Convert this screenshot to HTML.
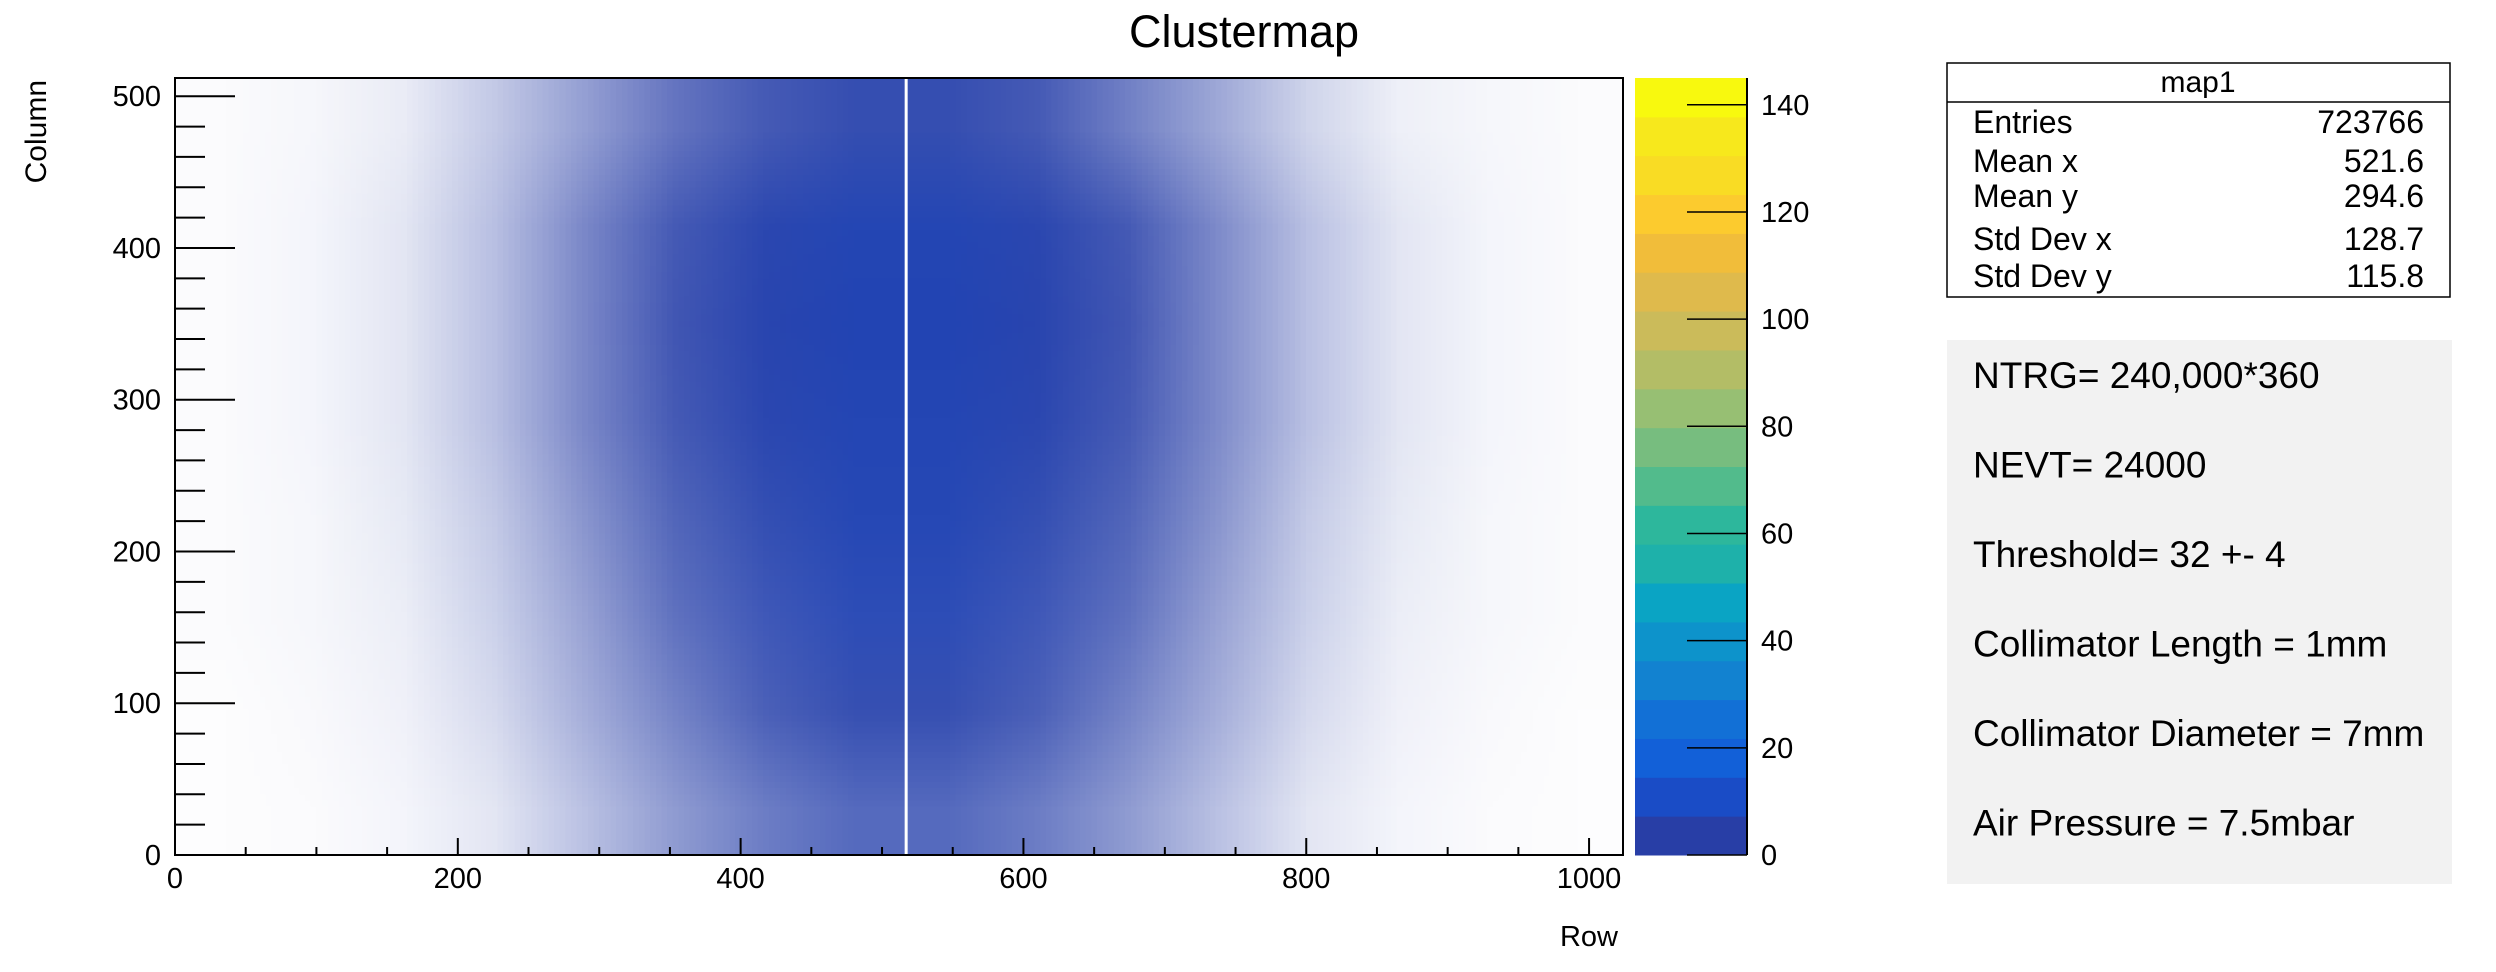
<!DOCTYPE html>
<html><head><meta charset="utf-8">
<style>
html,body{margin:0;padding:0;background:#fff;}
body{width:2496px;height:972px;position:relative;overflow:hidden;font-family:"Liberation Sans",Arial,sans-serif;}
#heat{position:absolute;left:175px;top:78px;width:1448px;height:777px;}
svg{position:absolute;left:0;top:0;}
</style></head>
<body>
<canvas id="heat" width="16" height="8"></canvas>
<svg id="chart" width="2496" height="972"></svg>
<script>
// ---- data ----
const xBinCenters = [32,96,160,224,288,352,416,480,544,608,672,736,800,864,928,992];
const yBinCenters = [480,416,352,288,224,160,96,32];
const occupancyTop   = [.02,.04,.10,.28,.50,.72,.86,.93,.93,.86,.66,.45,.22,.08,.04,.02];
const occupancyUpper = [.02,.05,.13,.33,.62,.86,.97,.99,.99,.97,.86,.60,.32,.13,.05,.02];
const occupancyMid   = [.02,.05,.13,.33,.62,.88,.98,1.0,1.0,.98,.88,.60,.32,.13,.05,.02];
const occupancyMid2  = [.02,.05,.13,.33,.62,.86,.97,.99,.99,.97,.86,.60,.32,.13,.05,.02];
const occupancyLow1  = [.02,.04,.11,.28,.55,.80,.93,.98,.98,.93,.80,.55,.27,.11,.04,.02];
const occupancyLow2  = [.02,.04,.09,.24,.48,.74,.88,.95,.95,.88,.74,.48,.24,.09,.04,.02];
const occupancyLow3  = [.01,.03,.07,.19,.42,.64,.83,.92,.92,.83,.64,.42,.19,.07,.03,.01];
const occupancyBot   = [.01,.02,.05,.13,.32,.52,.68,.78,.78,.68,.52,.32,.13,.05,.02,.01];
const centerBoost    = [0,0,0,0,0,.1,.3,.5,.5,.3,.1,0,0,0,0,0];
const deadColumns = [516];
const xTicksMajor = [0,200,400,600,800,1000];
const yTicksMajor = [0,100,200,300,400,500];
const zTicks = [0,20,40,60,80,100,120,140];
const statsLabels = ["Entries","Mean x","Mean y","Std Dev x","Std Dev y"];
const statsValues = ["723766","521.6","294.6","128.7","115.8"];
const notes = ["NTRG= 240,000*360","NEVT= 24000","Threshold= 32 +- 4","Collimator Length = 1mm","Collimator Diameter = 7mm","Air Pressure = 7.5mbar"];
const palette = ["#283ea6","#1a4cc6","#1260d8","#1270d6","#1282d0","#0d93cb","#0aa4c4","#1eb1aa","#2db79c","#52bb8c","#77bd7f","#97bf73","#b3bd66","#cbbb5a","#dfba4c","#f1bd3a","#fccb2e","#f9dc24","#f7e81c","#f8f90e"];
const occRows = [occupancyTop,occupancyUpper,occupancyMid,occupancyMid2,occupancyLow1,occupancyLow2,occupancyLow3,occupancyBot];

// ---- geometry ----
const PL=175, PR=1623, PT=78, PB=855, XMAX=1024, YMAX=512;
const xs = v => PL + v/XMAX*(PR-PL);
const ys = v => PB - v/YMAX*(PB-PT);
const CL=1635, CR=1747, ZMAX=145;
const zs = v => PB - v/ZMAX*(PB-PT);

// heatmap canvas
const cv=document.getElementById('heat'); const ctx=cv.getContext('2d');
const img=ctx.createImageData(16,8);
occRows.forEach((row,j)=>{ row.forEach((o,i)=>{
  const b=(j>=1&&j<=5)?centerBoost[i]:centerBoost[i]*0.4;
  const r=40-12*b, g=62+12*b, bl=166+26*b;
  const k=(j*16+i)*4;
  img.data[k]=Math.round(255+(r-255)*o);
  img.data[k+1]=Math.round(255+(g-255)*o);
  img.data[k+2]=Math.round(255+(bl-255)*o);
  img.data[k+3]=255;
});});
ctx.putImageData(img,0,0);

const svg=document.getElementById('chart'); const NS='http://www.w3.org/2000/svg';
function mk(tag,attrs,parent){const e=document.createElementNS(NS,tag);for(const k in attrs)e.setAttribute(k,attrs[k]);(parent||svg).appendChild(e);return e;}
function txt(s,attrs,parent){const e=mk('text',attrs,parent);e.textContent=s;return e;}

// dead columns
deadColumns.forEach(c=>{
  const r=mk('rect',{x:xs(c),y:PT,width:3,height:PB-PT,fill:'#fff'});
  
  
});

// frame
const fr=mk('rect',{x:PL,y:PT,width:PR-PL,height:PB-PT,fill:'none',stroke:'#000','stroke-width':2});



// title
const t=txt('Clustermap',{x:1244,y:47,'font-size':45,'text-anchor':'middle'});



// x ticks
for(let v=0; v<=XMAX; v+=50){
  const major=v%200===0;
  mk('line',{x1:xs(v),x2:xs(v),y1:PB,y2:PB-(major?17:8),stroke:'#000','stroke-width':2});
}
xTicksMajor.forEach(v=>{
  const l=txt(String(v),{x:xs(v),y:888,'font-size':29,'text-anchor':'middle'});
  
  
});
// y ticks
for(let v=0; v<=YMAX; v+=20){
  const major=v%100===0;
  mk('line',{x1:PL,x2:PL+(major?60:30),y1:ys(v),y2:ys(v),stroke:'#000','stroke-width':2});
}
yTicksMajor.forEach(v=>{
  const l=txt(String(v),{x:161,y:ys(v)+10,'font-size':29,'text-anchor':'end'});
  
  
});
const xt=txt('Row',{x:1618,y:946,'font-size':29,'text-anchor':'end'});


const yt=txt('Column',{x:0,y:0,'font-size':30,'text-anchor':'end',transform:'translate(46,80) rotate(-90)'});



// color bar
const bandH=ZMAX/palette.length;
palette.forEach((c,i)=>{
  const r=mk('rect',{x:CL,y:zs((i+1)*bandH),width:CR-CL,height:zs(i*bandH)-zs((i+1)*bandH)+0.5,fill:c});
  
  
});
mk('line',{x1:CR,x2:CR,y1:PT,y2:PB,stroke:'#000','stroke-width':2});
zTicks.forEach(v=>{
  mk('line',{x1:CR-60,x2:CR,y1:zs(v),y2:zs(v),stroke:'#000','stroke-width':1.5});
  const l=txt(String(v),{x:1761,y:zs(v)+10,'font-size':29});
  
  
});

// stats box
const sb=mk('g',{});


mk('rect',{x:1947,y:63,width:503,height:234,fill:'#fff',stroke:'#000','stroke-width':1.5},sb);
mk('line',{x1:1947,x2:2450,y1:102,y2:102,stroke:'#000','stroke-width':1.5},sb);
txt('map1',{x:2198,y:92,'font-size':30,'text-anchor':'middle'},sb);
const rowsY=[133,172,207,250,287];
statsLabels.forEach((s,i)=>{
  txt(s,{x:1973,y:rowsY[i],'font-size':32},sb);
  txt(statsValues[i],{x:2424,y:rowsY[i],'font-size':32,'text-anchor':'end'},sb);
});

// notes box
const nb=mk('g',{});


mk('rect',{x:1947,y:340,width:505,height:544,fill:'#f2f2f2'},nb);
notes.forEach((s,i)=>{
  txt(s,{x:1973,y:388+i*89.5,'font-size':37},nb);
});
</script>
</body></html>
